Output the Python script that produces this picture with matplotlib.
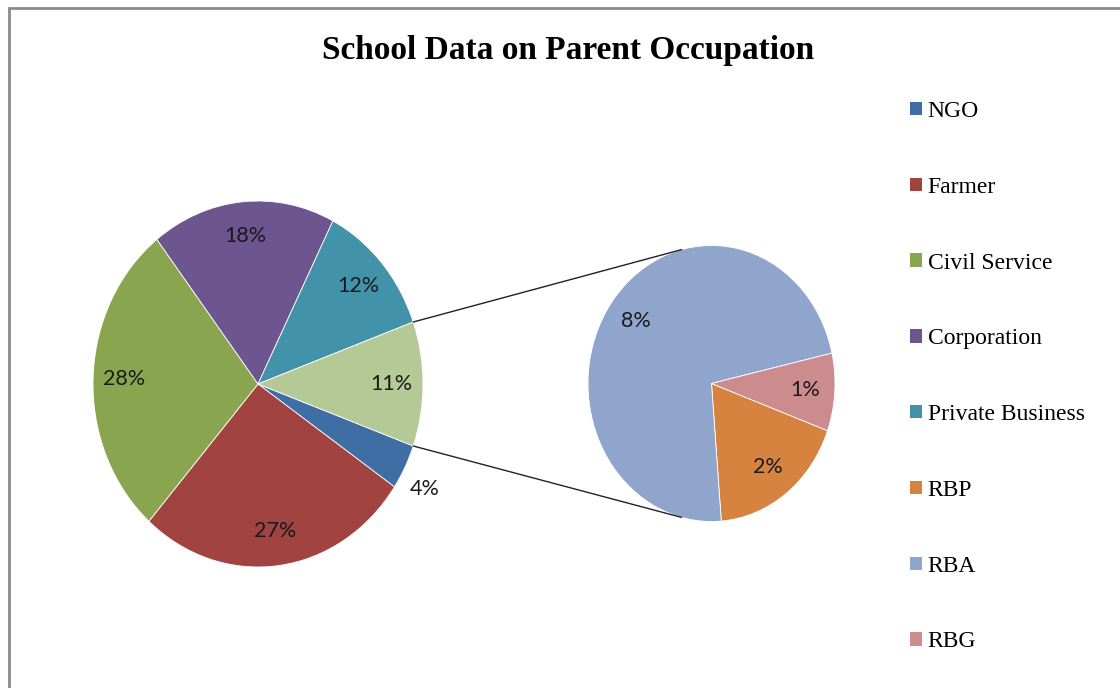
import numpy as np
import matplotlib.pyplot as plt
from matplotlib.patches import ConnectionPatch, Patch, Rectangle

# data (percent of all parents)
main_labels = ['NGO', 'Farmer', 'Civil Service', 'Corporation', 'Private Business', 'Other']
main_values = [4, 27, 28, 18, 12, 11]
main_colors = ['#3E6EA4', '#A14441', '#8AA54F', '#6D5590', '#4293AA', '#B4C996']

# the "Other" slice split in the second pie
sub_labels = ['RBP', 'RBA', 'RBG']
sub_values = [2, 8, 1]
sub_colors = ['#D6833F', '#8FA5CB', '#CC8C8D']

W, H = 1120, 688
fig = plt.figure(figsize=(W / 100, H / 100), dpi=100)
LIM = 1.3


def pie_axes(cx, cy, rx, ry):
    # axes placed by pixel centre and radii (picture is a bit taller than wide)
    ax = fig.add_axes([(cx - rx * LIM) / W, (H - cy - ry * LIM) / H,
                       2 * rx * LIM / W, 2 * ry * LIM / H])
    return ax


label_font = dict(fontsize=15.5, family=['Lato', 'DejaVu Sans'], color='#1a1a1a')
edge = dict(edgecolor='white', linewidth=0.6)

# main pie
ax1 = pie_axes(258, 384, 165, 183)
wedges1, _, auto1 = ax1.pie(main_values, colors=main_colors, startangle=-19.8,
                            counterclock=False, autopct=lambda p: f'{p:.0f}%',
                            pctdistance=0.81, wedgeprops=edge, textprops=label_font)
# small NGO label sits outside its slice
w = wedges1[0]
a = np.deg2rad((w.theta1 + w.theta2) / 2 - 2.5)
auto1[0].set_position((1.16 * np.cos(a), 1.16 * np.sin(a)))

# bar of pie -> second pie
ax2 = pie_axes(711.5, 383.5, 123.5, 138)
tot = sum(sub_values)
wedges2, _, auto2 = ax2.pie(sub_values, colors=sub_colors, startangle=-20,
                            counterclock=False,
                            autopct=lambda p: f'{p * tot / 100:.0f}%',
                            pctdistance=0.76, wedgeprops=edge, textprops=label_font)

for ax in (ax1, ax2):
    ax.set_aspect('auto')
    ax.set_xlim(-LIM, LIM)
    ax.set_ylim(-LIM, LIM)

# lines joining the Other slice to the second pie
other = wedges1[-1]
for t1, t2 in ((other.theta2, 104), (other.theta1, -104)):
    con = ConnectionPatch(xyA=(np.cos(np.deg2rad(t1)), np.sin(np.deg2rad(t1))), coordsA=ax1.transData,
                          xyB=(np.cos(np.deg2rad(t2)), np.sin(np.deg2rad(t2))), coordsB=ax2.transData,
                          color='#222222', linewidth=1)
    fig.add_artist(con)

# legend
handles = [Patch(facecolor=c, label=l) for c, l in zip(main_colors[:5], main_labels[:5])]
handles += [Patch(facecolor=sub_colors[i], label=sub_labels[i]) for i in range(3)]
fig.legend(handles=handles, loc='upper left', bbox_to_anchor=(910 / W, 1 - 101 / H),
           frameon=False, prop={'family': 'Liberation Serif', 'size': 17},
           handlelength=0.5, handleheight=0.5, handletextpad=0.25,
           labelspacing=2.32, borderaxespad=0, borderpad=0)

fig.text(568.5 / W, 1 - 50 / H, 'School Data on Parent Occupation', ha='center', va='center',
         fontsize=24, fontweight='bold', family='Liberation Serif')

# chart border (left and top visible)
fig.add_artist(Rectangle((9 / W, -0.05), 1.1, 1 - 8 / H + 0.05, transform=fig.transFigure,
                         fill=False, edgecolor='#8a8a8a', linewidth=2))

fig.savefig('out.png', dpi=100)
